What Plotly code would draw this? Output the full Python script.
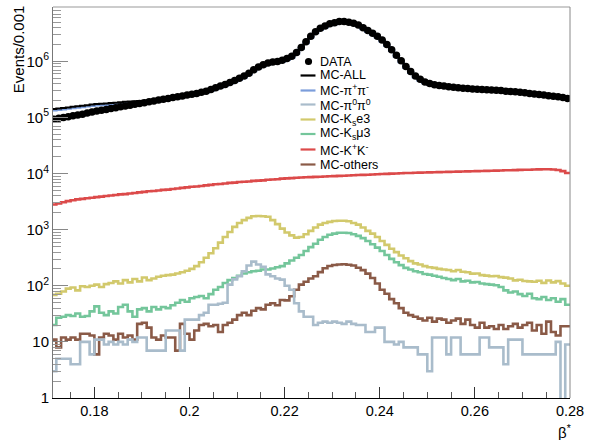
import plotly.graph_objects as go

# ---- data (Events per 0.001 bin of beta*) ----
BIN_LOW = 0.171
BIN_WIDTH = 0.001

DATA = [93300, 96600, 100000, 103500, 107200, 110900, 114800, 120200, 125900, 130300,
        134900, 139600, 144500, 149600, 154900, 160300, 166000, 171800, 177800, 184100,
        190500, 197200, 204200, 211300, 218800, 226500, 234400, 242700, 251200, 260000,
        269200, 281800, 295100, 316200, 338800, 363100, 389000, 421700, 457100, 501200,
        549500, 616600, 707900, 794300, 871000, 933300, 977200, 1000000, 1047000, 1122000,
        1230000, 1445000, 1778000, 2239000, 2818000, 3388000, 3890000, 4266000, 4677000, 4898000,
        5129000, 5129000, 5012000, 4786000, 4467000, 3981000, 3548000, 3162000, 2818000, 2399000,
        1995000, 1622000, 1288000, 1023000, 812800, 660700, 549500, 478600, 431500, 402700,
        384600, 371500, 363100, 354800, 346700, 338800, 331100, 327300, 323600, 319900,
        316200, 312600, 309000, 305500, 302000, 295100, 291700, 288400, 281800, 275400,
        269200, 263000, 257000, 251200, 245500, 239900, 234400, 226500, 218800]

MC_ALL = [141300, 144500, 147900, 151400, 154900, 158500, 162200, 166000, 169800, 173800,
          175800, 177800, 182000, 184100, 186200, 190500, 192800, 195000, 197200, 199500,
          201800, 204200, 206500, 211300, 218800, 226500, 234400, 242700, 251200, 260000,
          269200, 281800, 295100, 316200, 338800, 363100, 389000, 421700, 457100, 501200,
          549500, 616600, 707900, 794300, 871000, 933300, 977200, 1000000, 1047000, 1122000,
          1230000, 1445000, 1778000, 2239000, 2818000, 3388000, 3890000, 4266000, 4677000, 4898000,
          5129000, 5129000, 5012000, 4786000, 4467000, 3981000, 3548000, 3162000, 2818000, 2399000,
          1995000, 1622000, 1288000, 1023000, 812800, 660700, 549500, 478600, 431500, 402700,
          384600, 371500, 363100, 354800, 346700, 338800, 331100, 327300, 323600, 319900,
          316200, 312600, 309000, 305500, 302000, 295100, 291700, 288400, 281800, 275400,
          269200, 263000, 257000, 251200, 245500, 239900, 234400, 226500, 218800]

MC_PIPI = [134900, 138000, 141200, 144600, 147900, 151400, 154900, 158500, 162200, 166000,
           167900, 169800, 173800, 175800, 177800, 181900, 184100, 186200, 188300, 190500,
           192700, 195000, 197200, 201800, 209000, 216300, 223800, 231800, 239900, 248300,
           257100, 269100, 281800, 301900, 323600, 346800, 371500, 402700, 436500, 478600,
           524800, 588800, 676100, 758600, 831800, 891300, 933200, 955000, 999900, 1071500,
           1174700, 1380000, 1698000, 2138000, 2691000, 3236000, 3715000, 4074000, 4467000, 4678000,
           4898000, 4898000, 4786000, 4571000, 4266000, 3802000, 3388000, 3020000, 2691000, 2291000,
           1905000, 1549000, 1230000, 977000, 776200, 631000, 524800, 457100, 412100, 384600,
           367300, 354800, 346800, 338800, 331100, 323600, 316200, 312600, 309000, 305500,
           302000, 298500, 295100, 291800, 288400, 281800, 278600, 275400, 269100, 263000,
           257100, 251200, 245400, 239900, 234400, 229100, 223800, 216300, 209000]

MC_PI0PI0 = [3, 5, 5, 5, 4, 4, 10, 10, 6, 11,
             11, 9, 10, 9, 10, 9, 11, 10, 12, 12,
             7, 7, 7, 7, 16, 16, 16, 7, 25, 25,
             25, 30, 33, 46, 46, 48, 50, 105, 130, 148,
             182, 230, 270, 240, 219, 160, 148, 135, 129, 100,
             85, 49, 35, 28, 28, 20, 22, 23, 22, 23,
             22, 21, 23, 21, 20, 20, 15, 15, 18, 18,
             10, 10, 9, 10, 8, 8, 8, 6, 6, 3,
             12, 12, 12, 6, 12, 12, 6, 6, 6, 6,
             12, 12, 8, 8, 8, 4, 11, 11, 11, 6,
             6, 6, 6, 6, 6, 6, 10, 0, 9]

MC_KSE3 = [69, 72, 79, 89, 93, 83, 98, 95, 100, 105,
           95, 107, 112, 120, 110, 126, 115, 132, 120, 141,
           126, 135, 145, 151, 155, 158, 166, 174, 186, 200,
           224, 263, 316, 380, 468, 589, 741, 912, 1122, 1318,
           1479, 1622, 1738, 1758, 1738, 1698, 1479, 1259, 1047, 891,
           794, 724, 741, 832, 955, 1096, 1230, 1318, 1380, 1429,
           1445, 1445, 1413, 1318, 1230, 1096, 955, 851, 741, 631,
           537, 457, 398, 347, 309, 275, 251, 240, 224, 214,
           209, 200, 195, 191, 182, 191, 178, 174, 165, 166,
           155, 152, 148, 150, 143, 140, 135, 125, 128, 122,
           120, 118, 123, 113, 124, 115, 121, 110, 100]

MC_KSMU3 = [20, 27, 28, 30, 29, 32, 28, 29, 35, 43,
            33, 30, 35, 32, 42, 46, 35, 28, 38, 40,
            35, 42, 38, 42, 40, 45, 50, 56, 52, 60,
            63, 66, 60, 71, 85, 95, 112, 126, 138, 151,
            166, 174, 182, 186, 195, 195, 204, 214, 224, 251,
            282, 316, 355, 417, 490, 562, 661, 741, 813, 851,
            881, 881, 871, 832, 776, 708, 631, 550, 479, 417,
            355, 302, 263, 234, 209, 195, 182, 174, 162, 158,
            151, 145, 138, 132, 126, 132, 120, 123, 115, 117,
            110, 107, 105, 102, 95, 83, 76, 79, 71, 66,
            72, 60, 58, 63, 56, 60, 52, 58, 46]

MC_KK = [2818, 2951, 3090, 3236, 3350, 3467, 3548, 3631, 3715, 3802,
         3890, 3981, 4074, 4169, 4266, 4315, 4416, 4519, 4624, 4732,
         4842, 4898, 5012, 5129, 5188, 5309, 5433, 5559, 5689, 5821,
         5888, 6026, 6166, 6310, 6457, 6531, 6683, 6839, 6918, 7079,
         7161, 7244, 7413, 7499, 7586, 7762, 7852, 7943, 8128, 8222,
         8318, 8414, 8511, 8590, 8670, 8730, 8810, 8890, 8950, 9036,
         9120, 9180, 9270, 9330, 9420, 9506, 9570, 9660, 9730, 9820,
         9890, 9980, 10050, 10140, 10230, 10280, 10330, 10400, 10450, 10500,
         10570, 10620, 10670, 10740, 10790, 10840, 10920, 10960, 11020, 11090,
         11140, 11190, 11270, 11320, 11380, 11450, 11510, 11560, 11640, 11690,
         11750, 11830, 11890, 11940, 11970, 11860, 11610, 11090, 10230]

MC_OTHERS = [11, 8, 12, 11, 12, 11, 14, 14, 13, 6,
             12, 14, 13, 11, 14, 12, 13, 11, 21, 22,
             18, 12, 11, 13, 12, 12, 7, 21, 14, 11,
             16, 20, 21, 19, 20, 15, 20, 22, 25, 30,
             33, 30, 36, 40, 38, 46, 49, 45, 56, 55,
             65, 85, 105, 118, 135, 148, 175, 205, 225, 235,
             240, 242, 238, 230, 210, 190, 165, 138, 110, 85,
             72, 58, 49, 40, 33, 30, 28, 26, 24, 27,
             23, 26, 25, 22, 24, 26, 21, 25, 20, 18,
             22, 18, 19, 17, 20, 17, 19, 21, 18, 20,
             22, 16, 20, 14, 23, 15, 13, 19, 19]

X_TICKS = [0.18, 0.20, 0.22, 0.24, 0.26, 0.28]
X_TICK_TEXT = ["0.18", "0.2", "0.22", "0.24", "0.26", "0.28"]
Y_TICKS = [1, 10, 100, 1000, 10000, 100000, 1000000]
Y_TICK_TEXT = ["1", "10", "10<sup>2</sup>", "10<sup>3</sup>", "10<sup>4</sup>",
               "10<sup>5</sup>", "10<sup>6</sup>"]

SERIES = [
    ("MC-K<sup>+</sup>K<sup>-</sup>", MC_KK, "#dc4a4a"),
    ("MC-K<sub>s</sub>e3", MC_KSE3, "#d2c96c"),
    ("MC-K<sub>s</sub>μ3", MC_KSMU3, "#74c69b"),
    ("MC-others", MC_OTHERS, "#8a5a47"),
    ("MC-π<sup>0</sup>π<sup>0</sup>", MC_PI0PI0, "#a9bccb"),
    ("MC-π<sup>+</sup>π<sup>-</sup>", MC_PIPI, "#7b9ddb"),
    ("MC-ALL", MC_ALL, "#000000"),
]

FONT = "Liberation Sans, Arial, Helvetica, sans-serif"


def step_xy(values):
    n = len(values)
    xs = [BIN_LOW + BIN_WIDTH * i for i in range(n + 1)]
    ys = [v if v > 0 else 1e-3 for v in values]  # empty bins drop to the axis floor
    return xs, ys + [ys[-1]]


fig = go.Figure()
for name, vals, col in SERIES:
    xs, ys = step_xy(vals)
    fig.add_trace(go.Scatter(x=xs, y=ys, mode="lines", name=name,
                             line=dict(color=col, width=2.6 if col != "#000000" else 2,
                                       shape="hv"),
                             showlegend=False, hoverinfo="skip"))

centers = [BIN_LOW + BIN_WIDTH * (i + 0.5) for i in range(len(DATA))]
fig.add_trace(go.Scatter(x=centers, y=DATA, mode="markers", name="DATA",
                         marker=dict(color="black", size=7.5, symbol="circle"),
                         showlegend=False, cliponaxis=True))

# ---- layout ----
W, H = 591, 440
ML, MR, MT, MB = 53, 18, 7, 42
PW, PH = W - ML - MR, H - MT - MB


def px2paper(px, py):
    return (px - ML) / PW, (H - MB - py) / PH


fig.update_layout(
    width=W, height=H,
    margin=dict(l=ML, r=MR, t=MT, b=MB),
    paper_bgcolor="white", plot_bgcolor="white",
    font=dict(family=FONT, color="black", size=14),
    showlegend=False,
    xaxis=dict(range=[0.1713, 0.28], tickvals=X_TICKS, ticktext=X_TICK_TEXT,
               ticks="inside", ticklen=11, tickcolor="#333", tickwidth=1,
               showline=True, linecolor="black", linewidth=1, mirror=False,
               showgrid=False, zeroline=False,
               tickfont=dict(size=14.5, family=FONT),
               minor=dict(ticks="inside", ticklen=6, tickcolor="#555", dtick=0.005,
                          tick0=0.18, showgrid=False)),
    yaxis=dict(type="log", range=[0, 6.97], tickvals=Y_TICKS, ticktext=Y_TICK_TEXT,
               ticks="inside", ticklen=15, tickcolor="#888", tickwidth=1,
               showline=True, linecolor="#777", linewidth=1, mirror=False,
               showgrid=False, zeroline=False,
               tickfont=dict(size=15, family=FONT),
               minor=dict(ticks="inside", ticklen=8, tickcolor="#999", dtick="D1",
                          showgrid=False)),
)

# frame top/right (lighter)
fig.add_shape(type="line", xref="paper", yref="paper", x0=0, x1=1, y0=1, y1=1,
              line=dict(color="#cccccc", width=2))
fig.add_shape(type="line", xref="paper", yref="paper", x0=1, x1=1, y0=0, y1=1,
              line=dict(color="#888888", width=1))

# axis titles
xt, yt = px2paper(567, 431)
fig.add_annotation(text="β<sup>*</sup>", xref="paper", yref="paper", x=xt, y=yt,
                   showarrow=False, font=dict(size=15, family=FONT),
                   xanchor="center", yanchor="middle")
xt, yt = px2paper(18, 3)
fig.add_annotation(text="Events/0.001", xref="paper", yref="paper", x=xt, y=yt,
                   showarrow=False, textangle=-90, font=dict(size=15, family=FONT),
                   xanchor="center", yanchor="top")

# ---- custom legend ----
LEG = [
    ("DATA", None, 61.5),
    ("MC-ALL", "#000000", 75.5),
    ("MC-π<sup>+</sup>π<sup>-</sup>", "#7b9ddb", 90.5),
    ("MC-π<sup>0</sup>π<sup>0</sup>", "#a9bccb", 104.5),
    ("MC-K<sub>s</sub>e3", "#d2c96c", 119.5),
    ("MC-K<sub>s</sub>μ3", "#74c69b", 134),
    ("MC-K<sup>+</sup>K<sup>-</sup>", "#dc4a4a", 149.5),
    ("MC-others", "#8a5a47", 164.5),
]
for label, col, py in LEG:
    tx, ty = px2paper(320, py)
    fig.add_annotation(text=label, xref="paper", yref="paper", x=tx, y=ty,
                       showarrow=False, xanchor="left", yanchor="middle",
                       font=dict(size=12.5, family=FONT))
    if col is None:
        cx, cy = px2paper(310, py)
        r = 3.6
        fig.add_shape(type="circle", xref="paper", yref="paper",
                      x0=cx - r / PW, x1=cx + r / PW, y0=cy - r / PH, y1=cy + r / PH,
                      fillcolor="black", line=dict(color="black", width=0))
    else:
        x0, y0 = px2paper(302, py)
        x1, _ = px2paper(317, py)
        fig.add_shape(type="line", xref="paper", yref="paper", x0=x0, x1=x1, y0=y0, y1=y0,
                      line=dict(color=col, width=2.2))

fig.write_html("out.html", config={"displayModeBar": False},
               post_script="document.body.style.margin='0';document.body.style.overflow='hidden';")
